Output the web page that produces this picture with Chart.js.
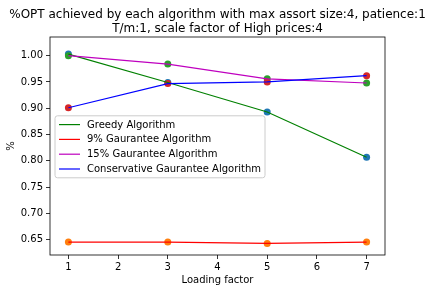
<!DOCTYPE html>
<html>
<head>
<meta charset="utf-8">
<script src="https://cdn.jsdelivr.net/npm/chart.js@4/dist/chart.umd.min.js"></script>
<style>
html,body{margin:0;padding:0;background:#fff;}
#wrap{width:434px;height:293px;position:relative;}
</style>
</head>
<body>
<div id="wrap"><canvas id="c" width="434" height="293"></canvas></div>
<script>
const titleLines = ["%OPT achieved by each algorithm with max assort size:4, patience:1", "T/m:1, scale factor of High prices:4"];
const xLabel = "Loading factor";
const yLabel = "%";
const loadingFactors = [1, 3, 5, 7];
const xTicks = [1, 2, 3, 4, 5, 6, 7];
const yTicks = [0.65, 0.70, 0.75, 0.80, 0.85, 0.90, 0.95, 1.00];
const seriesNames = ["Greedy Algorithm", "9% Gaurantee Algorithm", "15% Gaurantee Algorithm", "Conservative Gaurantee Algorithm"];
const greedy = [1.003, 0.949, 0.893, 0.807];
const guarantee9 = [0.6455, 0.6455, 0.643, 0.6455];
const guarantee15 = [1.000, 0.984, 0.956, 0.948];
const conservative = [0.901, 0.947, 0.950, 0.962];

const seriesValues = [greedy, guarantee9, guarantee15, conservative];
const lineColors = ["#008000", "#ff0000", "#bf00bf", "#0000ff"];
const pointColors = ["#1f77b4", "#ff7f0e", "#2ca02c", "#d62728"];
const FONT = "'DejaVu Sans', sans-serif";

const toXY = vals => vals.map((v, i) => ({x: loadingFactors[i], y: v}));

const datasets = [];
seriesValues.forEach((vals, i) => {
  datasets.push({
    type: 'scatter', label: '_pts' + i, data: toXY(vals),
    backgroundColor: pointColors[i], borderColor: pointColors[i],
    pointRadius: 3.5, pointHoverRadius: 3.5, borderWidth: 0, order: 14 - i
  });
});
seriesValues.forEach((vals, i) => {
  datasets.push({
    type: 'line', label: seriesNames[i], data: toXY(vals),
    borderColor: lineColors[i], backgroundColor: lineColors[i],
    borderWidth: 1.2, pointRadius: 0, tension: 0, fill: false, order: 4 - i
  });
});

const framePlugin = {
  id: 'frame',
  afterDatasetsDraw(chart) {
    const {ctx, chartArea: a} = chart;
    ctx.save();
    ctx.strokeStyle = '#000';
    ctx.lineWidth = 0.8;
    ctx.strokeRect(a.left, a.top, a.right - a.left, a.bottom - a.top);
    ctx.restore();
  }
};

const textPlugin = {
  id: 'mplText',
  afterDraw(chart) {
    const {ctx, chartArea: a} = chart;
    ctx.save();
    // title
    ctx.fillStyle = '#000';
    ctx.font = "12px " + FONT;
    ctx.textAlign = 'center';
    ctx.textBaseline = 'alphabetic';
    const cx = (a.left + a.right) / 2;
    ctx.fillText(titleLines[0], cx, 17.5);
    ctx.fillText(titleLines[1], cx, 31.5);

    // legend
    const rowH = 14.8;
    const boxW = 210, boxH = 62;
    const x0 = a.left + 5;
    const cy = (a.top + a.bottom) / 2 + 0.8;
    const y0 = cy - boxH / 2;
    ctx.beginPath();
    const r = 2.5;
    ctx.moveTo(x0 + r, y0);
    ctx.lineTo(x0 + boxW - r, y0);
    ctx.quadraticCurveTo(x0 + boxW, y0, x0 + boxW, y0 + r);
    ctx.lineTo(x0 + boxW, y0 + boxH - r);
    ctx.quadraticCurveTo(x0 + boxW, y0 + boxH, x0 + boxW - r, y0 + boxH);
    ctx.lineTo(x0 + r, y0 + boxH);
    ctx.quadraticCurveTo(x0, y0 + boxH, x0, y0 + boxH - r);
    ctx.lineTo(x0, y0 + r);
    ctx.quadraticCurveTo(x0, y0, x0 + r, y0);
    ctx.closePath();
    ctx.fillStyle = 'rgba(255,255,255,0.8)';
    ctx.fill();
    ctx.strokeStyle = '#cccccc';
    ctx.lineWidth = 1;
    ctx.stroke();
    ctx.font = "10px " + FONT;
    ctx.textAlign = 'left';
    ctx.textBaseline = 'middle';
    const firstRow = cy - rowH * 1.5;
    seriesNames.forEach((name, i) => {
      const y = firstRow + i * rowH;
      ctx.strokeStyle = lineColors[i];
      ctx.lineWidth = 1.2;
      ctx.beginPath();
      ctx.moveTo(x0 + 4, y);
      ctx.lineTo(x0 + 25, y);
      ctx.stroke();
      ctx.fillStyle = '#000';
      ctx.fillText(name, x0 + 32, y + 0.5);
    });
    ctx.restore();
  }
};

new Chart(document.getElementById('c'), {
  data: {datasets},
  options: {
    responsive: false,
    animation: false,
    devicePixelRatio: 1,
    layout: {padding: {left: 0, right: 49, top: 37, bottom: 0}},
    plugins: {legend: {display: false}, title: {display: false}, tooltip: {enabled: false}},
    scales: {
      x: {
        type: 'linear', min: 0.63, max: 7.37,
        afterBuildTicks: s => { s.ticks = xTicks.map(v => ({value: v})); },
        afterFit: s => { s.height = 38; },
        ticks: {font: {family: FONT, size: 10}, color: '#000', padding: 2, maxRotation: 0,
                callback: v => String(v)},
        grid: {display: true, drawOnChartArea: false, drawTicks: true, tickLength: 4, color: '#000', lineWidth: 0.8},
        border: {display: false},
        title: {display: true, text: xLabel, font: {family: FONT, size: 10}, color: '#000', padding: {top: 0, bottom: 7}}
      },
      y: {
        type: 'linear', min: 0.621, max: 1.0355,
        afterBuildTicks: s => { s.ticks = yTicks.map(v => ({value: v})); },
        afterFit: s => { s.width = 50; },
        ticks: {font: {family: FONT, size: 10}, color: '#000', padding: 3,
                callback: v => Number(v).toFixed(2)},
        grid: {display: true, drawOnChartArea: false, drawTicks: true, tickLength: 4, color: '#000', lineWidth: 0.8},
        border: {display: false},
        title: {display: true, text: yLabel, font: {family: FONT, size: 10}, color: '#000', padding: {top: 5, bottom: 0}}
      }
    }
  },
  plugins: [framePlugin, textPlugin]
});
</script>
</body>
</html>
